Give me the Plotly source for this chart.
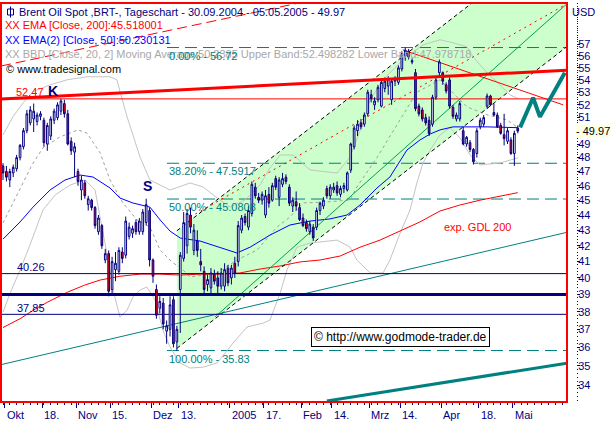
import numpy as np
import plotly.graph_objects as go

# ---------------- data (trading-day index 0 = 30.09.2004) ----------------
opens = [47.4,47.0,46.4,46.9,47.2,48.0,48.8,50.0,50.6,50.9,50.7,51.1,50.8,49.0,49.6,50.8,51.0,51.5,52.1,51.3,
         49.2,48.4,47.0,45.7,46.2,44.7,45.0,44.5,42.9,43.3,41.1,41.5,39.3,40.5,40.4,41.6,41.4,42.6,42.8,43.5,
         42.9,42.9,43.5,44.3,41.1,39.3,38.2,38.5,36.9,37.0,38.7,36.3,39.3,41.2,42.0,44.0,41.7,42.3,41.0,40.4,
         39.6,39.4,40.2,40.0,39.5,39.5,40.6,40.0,40.9,41.0,43.0,43.9,43.2,44.1,45.9,45.2,45.0,44.0,45.4,45.0,
         46.5,45.2,46.1,46.6,45.9,44.6,44.9,44.5,43.8,43.5,42.9,43.2,43.2,44.3,44.6,45.8,45.3,45.7,46.0,45.4,
         45.8,45.7,47.1,48.8,50.0,50.6,50.5,51.3,52.8,52.0,52.4,51.9,53.3,53.5,52.4,53.9,53.8,54.9,56.0,56.4,
         55.6,54.6,51.9,51.6,51.0,50.8,50.5,52.6,54.6,54.6,53.6,54.0,51.8,50.9,50.9,50.0,49.0,49.1,48.6,48.3,
         50.3,50.5,51.9,52.7,51.4,51.2,50.4,49.7,49.2,49.3,48.3,50.2]
highs = [47.6,47.4,47.2,47.5,48.2,49.0,50.2,51.6,51.9,52.1,51.4,51.5,51.0,50.6,51.1,51.7,52.2,52.47,52.4,51.6,
         49.5,49.1,47.2,46.7,46.4,45.3,45.1,44.6,44.0,43.4,41.8,41.7,41.3,41.6,41.9,41.9,43.9,43.5,43.3,43.7,
         43.8,44.4,45.1,44.5,41.2,39.6,38.9,38.8,37.5,38.9,38.9,37.2,41.6,44.2,44.4,44.5,43.4,43.0,41.8,40.7,
         40.2,40.6,40.5,40.4,40.6,40.9,40.8,40.8,41.3,43.6,44.0,44.1,44.6,46.3,46.2,45.5,45.6,45.7,45.9,46.2,
         46.7,46.6,46.9,46.8,46.1,45.2,45.6,44.8,44.1,43.7,43.6,43.4,44.5,44.9,45.2,46.0,46.1,46.2,46.3,46.0,
         46.2,47.0,49.1,50.4,50.8,50.9,51.4,53.2,53.2,52.6,53.6,54.0,54.2,54.3,54.1,54.3,55.2,56.4,56.72,56.6,
         55.8,54.9,52.1,51.8,51.3,51.1,52.8,54.2,55.7,54.7,53.8,54.2,52.0,51.4,52.3,50.3,49.6,49.3,48.7,50.2,
         51.0,51.2,52.9,52.8,52.1,51.4,50.6,51.3,50.2,49.5,50.0,50.4]
lows = [46.4,46.3,45.9,46.6,47.0,47.8,48.6,49.8,50.4,49.9,50.4,50.8,48.8,48.5,49.3,50.5,50.8,51.2,51.0,48.9,
        48.2,46.6,46.0,45.0,45.1,44.3,44.3,43.1,42.7,41.8,40.9,38.9,39.0,39.8,40.2,40.9,41.2,42.4,42.5,42.7,
        42.7,42.7,43.3,40.7,39.7,37.6,37.9,37.0,36.2,36.6,36.0,35.83,36.8,41.0,41.5,42.8,41.4,41.3,40.4,39.0,
        39.2,39.0,39.6,39.0,39.3,39.2,39.5,39.6,40.0,40.7,42.8,43.3,43.0,43.9,45.1,44.8,44.7,43.8,44.5,44.9,
        45.7,44.6,45.9,46.1,44.6,44.2,44.3,43.6,43.2,42.9,42.7,42.3,43.0,44.0,44.4,45.1,45.1,45.5,45.3,45.2,
        45.5,45.6,46.9,48.6,49.6,50.1,50.3,51.1,52.2,51.6,52.2,51.8,53.0,52.8,52.0,53.5,53.6,54.7,55.6,55.7,
        55.3,51.5,51.1,50.7,50.4,49.6,50.3,52.4,54.3,53.6,52.9,51.7,50.9,50.7,50.7,48.9,48.8,48.4,47.5,48.0,
        50.1,50.3,51.7,51.9,51.1,50.2,49.7,48.9,49.0,48.2,47.4,49.8]
closes = [46.9,46.6,47.0,47.3,48.0,48.9,50.0,51.3,51.6,51.5,51.2,51.3,49.1,50.4,50.9,51.5,52.0,52.3,51.3,49.0,
          48.5,48.8,46.3,46.4,45.3,45.1,44.5,43.3,43.8,42.0,41.5,39.2,41.0,40.9,41.7,41.2,43.6,43.2,43.1,42.9,
          43.6,44.2,44.7,41.1,40.1,37.8,38.6,37.3,37.2,38.4,36.2,37.0,41.4,43.5,44.1,43.2,43.0,41.7,40.8,39.3,
          39.9,40.3,39.8,39.5,40.3,40.5,39.7,40.6,40.3,43.3,43.8,43.5,44.3,46.1,45.3,45.0,45.4,45.3,44.8,46.0,
          45.9,46.4,46.5,46.3,44.8,45.0,44.6,43.7,43.3,43.1,43.4,42.5,44.3,44.8,45.0,45.3,45.9,45.9,45.5,45.8,
          46.0,46.9,49.0,50.2,50.5,50.3,51.2,53.0,52.5,52.3,53.4,53.8,53.9,54.1,53.9,54.0,55.0,56.2,56.5,55.9,
          55.5,51.7,51.3,50.9,50.6,49.8,52.6,54.0,55.5,53.9,53.1,51.9,51.1,51.2,52.1,49.0,49.5,48.6,47.7,50.0,
          50.8,51.0,52.7,52.0,51.2,50.3,49.8,49.4,50.0,48.3,49.8,49.97]

# indicator readings (index, value)
ema200_x = [0,5,9,13,19,24,28.5,34.3,40.2,46,52,57.8,63.7,69.5,75.4,81.3,87.1,93,98.9,104.7,110.6,116.5,122.3,128.2,134,139.9,145.8,151]
ema200_y = [37.1,37.6,38.1,38.55,39.15,39.57,39.87,40.1,40.23,40.23,40.17,40.23,40.23,40.3,40.54,40.73,40.98,41.1,41.35,41.9,42.36,42.94,43.54,44.27,44.67,45.0,45.3,45.518]
ema50_x = [0,5,8.8,13.8,18.2,22.6,26.4,31.4,34.3,38.1,43.1,46.1,49,52,57.8,63.7,68.6,72.5,78.3,84.2,90.1,95.9,100.9,104.7,109.7,113.5,118.5,122.3,125.3,128.2,132,142,151]
ema50_y = [42.42,43.54,44.53,45.70,46.40,46.75,46.61,45.84,45.15,44.81,44.53,43.67,42.94,42.49,42.30,41.91,41.54,41.91,42.68,43.34,43.60,43.74,44.0,44.67,45.84,46.61,48.56,49.30,49.75,50.06,50.29,50.29,50.23]
bb_mid_x = [0,8.5,11.7,16.7,22,24.6,28.5,31.4,35.2,39.3,43.1,46.1,49.9,51.9,54.9,62.8,68.6,74.5,80.4,84.2,88,95,101.8,103.8,109.7,115.6,121.4,128.2,133.2,136.1,142,147.8,151]
bb_mid_y = [43.47,47.47,48.71,49.53,50.06,49.83,48.34,46.40,44.81,43.67,43.21,41.72,40.91,40.67,40.05,40.3,41.10,41.72,43.21,43.87,44.81,44.88,45.01,45.91,48.0,50.45,53.0,54.01,52.64,51.84,51.22,50.83,50.24]
bb_up_x = [0,2.9,5.9,8.8,13.8,18.8,24.6,31.4,33.4,36.4,40.2,43.1,46.1,49,54.9,58.7,62.8,66.6,71,75.4,78.3,81.3,85.1,90.1,98,101.8,105.6,107.7,111.5,117.3,123.2,128.2,132,136.1,137.9,142,145.8,148.7,151]
bb_up_y = [49.68,51.06,52.16,53.04,53.60,54.01,54.26,54.26,54.01,51.06,48.04,46.40,46.05,45.70,46.19,45.91,45.15,44.53,45.01,46.05,47.25,48.19,48.19,47.11,46.89,48.04,50.60,52.40,54.01,55.67,56.95,57.39,57.13,56.78,55.93,54.59,53.60,52.80,52.498]
bb_lo_x = [0,2.1,5,7.9,11.7,15.3,19.7,24.1,27,29.3,31.4,32.3,34.3,36.4,38.1,40.2,42.2,44.6,46.9,49,51.9,54.9,58.7,62.8,67.5,71.6,76.3,78.3,81.3,83.3,86.2,90.1,98,101.8,103.8,107.7,111.5,113.5,116.5,119.4,121.4,123.2,125.3,128.2,131.1,134.1,137,139.9,145.8,151]
bb_lo_y = [37.98,39.09,40.48,42.04,44.33,45.36,46.05,46.40,45.70,43.01,40.48,39.27,37.69,38.09,38.86,39.27,39.45,38.68,36.96,36.02,35.16,34.89,34.94,35.16,36.24,37.13,37.35,37.52,39.09,40.48,41.91,42.17,42.36,41.91,41.10,40.30,40.30,41.10,42.81,44.33,46.19,47.61,48.56,49.68,50.22,49.45,48.19,47.47,47.61,47.98]

# drawing-tool lines (index, price)
trend_red_x, trend_red_y = [-0.6, 165.4], [52.47, 54.8]
red_dash_x, red_dash_y = [-0.6, 87.1], [55.15, 60.7]
chan_up_x, chan_up_y = [51.0, 137.6], [42.96, 60.68]
chan_lo_x, chan_lo_y = [51.0, 165.45], [35.95, 56.8]
red_dot_x, red_dot_y = [54.9, 165.4], [43.87, 60.6]
green_x, green_y = [62.2, 165.4], [37.7, 60.6]
teal_x, teal_y = [-0.6, 165.4], [35.07, 42.86]
teal_thick_x, teal_thick_y = [95.0, 165.4], [33.19, 35.15]
zig_x, zig_y = [151.7, 155.5, 157.5, 164.8], [50.25, 52.56, 51.06, 54.6]
red_down_x, red_down_y = [117.3, 164.3], [56.52, 52.0]
fib_levels = [56.72, 47.5917, 45.0808, 35.83]
fib_labels = ["0.00% - 56.72", "38.20% - 47.5917", "50.00% - 45.0808", "100.00% - 35.83"]
fib_start = 48.1
navy_levels = [40.26, 37.85]
navy_thick_level = 39.0
red_level = 52.47

tick_idx = [1, 12, 22, 32, 44, 52, 67, 77, 88, 97, 108, 117, 129, 140, 150]
tick_txt = ["Okt", "18.", "Nov", "15.", "Dez", "13.", "2005", "17.", "Feb", "14.", "Mrz", "14.", "Apr", "18.", "Mai"]
ytick_vals = [v for v in range(34, 58) if v != 50]

# ---------------- figure ----------------
X0, X1 = -0.587, 165.445
Y0, Y1 = np.log10(33.14), np.log10(60.68)
FONT = "Liberation Sans, Arial, sans-serif"
NAVY = "#000080"
TEAL = "#008080"
XDOM = [0, 566 / 575.0]
idx = list(range(len(closes)))

def px(x):
    return (x - 1) / 575.0

def py(y):
    return (402 - y) / 399.0

fig = go.Figure()

def line(x, y, color, width=1, dash=None, axes=1):
    d = dict(color=color, width=width)
    if dash:
        d["dash"] = dash
    fig.add_trace(go.Scatter(x=x, y=y, mode="lines", line=d, hoverinfo="skip",
                             xaxis="x" if axes == 1 else "x2", yaxis="y" if axes == 1 else "y2"))

# channel fill
fill_x = [chan_up_x[0], chan_up_x[1], X1, X1, chan_lo_x[1], chan_lo_x[0]]
fill_y = [chan_up_y[0], chan_up_y[1], chan_up_y[1], chan_lo_y[1], chan_lo_y[1], chan_lo_y[0]]
fig.add_trace(go.Scatter(x=fill_x, y=fill_y, fill="toself", fillcolor="#ccffcc", mode="none", hoverinfo="skip"))

# fibonacci levels
for lv in fib_levels:
    line([fib_start, X1], [lv, lv], TEAL, 1, "12px,6px")

# bollinger
line(bb_up_x, bb_up_y, "#c4c4c4", 1)
line(bb_lo_x, bb_lo_y, "#c4c4c4", 1)
line(bb_mid_x, bb_mid_y, "#a0a0a0", 1, "3px,3px")
# EMAs
line(ema200_x, ema200_y, "#ff0000", 1)
line(ema50_x, ema50_y, "#0000ff", 1)
# channel
line(chan_up_x, chan_up_y, "#000000", 1, "4px,3px")
line(chan_lo_x, chan_lo_y, "#000000", 1, "4px,3px")
line(red_dot_x, red_dot_y, "#ff0000", 1, "2px,4px")
line(green_x, green_y, "#00a050", 1)
line(teal_x, teal_y, TEAL, 1)
line(red_dash_x, red_dash_y, "#ff0000", 1, "10px,5px")
line(red_down_x, red_down_y, "#ff0000", 1)
# horizontal levels
line([X0, X1], [red_level, red_level], "#ff0000", 1)
for lv in navy_levels:
    line([X0, X1], [lv, lv], NAVY, 1)
line([X0, X1], [navy_thick_level, navy_thick_level], NAVY, 3)

# candles on overlay subplot
fig.add_trace(go.Candlestick(x=idx, open=opens, high=highs, low=lows, close=closes,
                             xaxis="x2", yaxis="y2", whiskerwidth=0,
                             increasing=dict(line=dict(color=NAVY, width=1), fillcolor="#ffffff"),
                             decreasing=dict(line=dict(color=NAVY, width=1), fillcolor="#ff0000"),
                             hoverinfo="skip"))
line(trend_red_x, trend_red_y, "#ff0000", 3, axes=2)
line(teal_thick_x, teal_thick_y, TEAL, 3, axes=2)
line(zig_x, zig_y, TEAL, 4, axes=2)

ann = []
def txt(text, x, y, color, size=11, xref="paper", yref="paper", bold=False, xanchor="left", yshift=0, **kw):
    if bold:
        text = "<b>" + text + "</b>"
    ann.append(dict(text=text, x=x, y=y, xref=xref, yref=yref, xanchor=xanchor, yanchor="middle",
                    showarrow=False, yshift=yshift, font=dict(family=FONT, size=size, color=color), **kw))

# header / legend text
txt("Brent Oil Spot ,BRT-, Tageschart - 30.09.2004 - 05.05.2005 - 49.97", px(17), py(12), NAVY)
txt("XX EMA [Close, 200]:45.518001", px(3), py(25.5), "#ff0000")
txt("XX EMA(2) [Close, 50]:50.230131", px(3), py(40), "#0000ff")
txt("XX BBD [Close, 20, 2] Moving Average:50.2385 Upper Band:52.498282 Lower Band:47.978718", px(3), py(54), "#a8a8a8")
txt("© www.tradesignal.com", px(4), py(69), "#000000")
# fib labels
for lv, lb in zip(fib_levels, fib_labels):
    txt(lb, fib_start, np.log10(lv), TEAL, xref="x", yref="y", yshift=-8)
txt("52.47", px(14), np.log10(red_level), "#ff0000", yref="y", yshift=7)
txt("K", px(46), np.log10(red_level), NAVY, size=14, yref="y", bold=True, yshift=8)
txt("S", px(141), py(186), NAVY, size=14, bold=True)
txt("40.26", px(15), np.log10(navy_levels[0]), NAVY, yref="y", yshift=7)
txt("37.85", px(15), np.log10(navy_levels[1]), NAVY, yref="y", yshift=6)
txt("exp. GDL 200", px(442), py(227), "#ff0000")
txt("© http://www.godmode-trader.de", px(400.5), py(336.5), "#000000", size=12, xanchor="center",
    bordercolor="#000000", borderwidth=1, borderpad=2, bgcolor="#ffffff")
txt("USD", px(570), py(12), NAVY)
txt("- 49.97", px(575), np.log10(closes[-1]), "#000000", yref="y", bgcolor="#ffffe6", borderpad=0)
# x labels
for ti, tt in zip(tick_idx, tick_txt):
    txt(tt, ti - 0.5, py(415), NAVY, xref="x")

shapes = [
    dict(type="rect", xref="x domain", yref="y domain", x0=0, x1=1, y0=0, y1=1,
         line=dict(color="#ff0000", width=2), layer="above"),
    dict(type="rect", xref="paper", yref="paper", x0=px(7.5), x1=px(13.5), y0=py(15), y1=py(9),
         line=dict(color=NAVY, width=1)),
    dict(type="line", xref="paper", yref="paper", x0=px(10.5), x1=px(10.5), y0=py(17.5), y1=py(6.5),
         line=dict(color=NAVY, width=1)),
]

minor_y = [round(33.2 + 0.2 * k, 1) for k in range(0, 138)]

fig.update_layout(
    width=612, height=426, margin=dict(l=1, r=36, t=3, b=24, autoexpand=False),
    paper_bgcolor="#ffffff", plot_bgcolor="#ffffff", showlegend=False,
    font=dict(family=FONT, size=11, color=NAVY),
    xaxis=dict(domain=XDOM, range=[X0, X1], showgrid=False, zeroline=False, showline=False,
               ticks="outside", tickvals=[t - 0.5 for t in tick_idx], ticklen=5, tickcolor=NAVY, tickwidth=1,
               showticklabels=False, minor=dict(tickvals=list(range(0, 166, 2)), ticks="outside", ticklen=2,
                                                tickcolor=NAVY),
               rangeslider=dict(visible=False), fixedrange=True),
    xaxis2=dict(domain=XDOM, overlaying="x", matches="x", visible=False, rangeslider=dict(visible=False)),
    yaxis=dict(type="log", range=[Y0, Y1], side="right", anchor="free", position=1.0,
               showgrid=False, zeroline=False, showline=False, ticks="outside", ticklen=3, tickcolor=NAVY,
               tickvals=ytick_vals, ticktext=[str(v) for v in ytick_vals], ticklabelstandoff=-4,
               tickfont=dict(family=FONT, size=11, color=NAVY),
               minor=dict(tickvals=minor_y, ticks="outside", ticklen=1, tickcolor=NAVY), fixedrange=True),
    yaxis2=dict(type="log", overlaying="y", matches="y", visible=False, anchor="x2"),
    annotations=ann, shapes=shapes,
)

fig.write_html("out.html", config={"displayModeBar": False},
               post_script="document.body.style.margin='0px';")
